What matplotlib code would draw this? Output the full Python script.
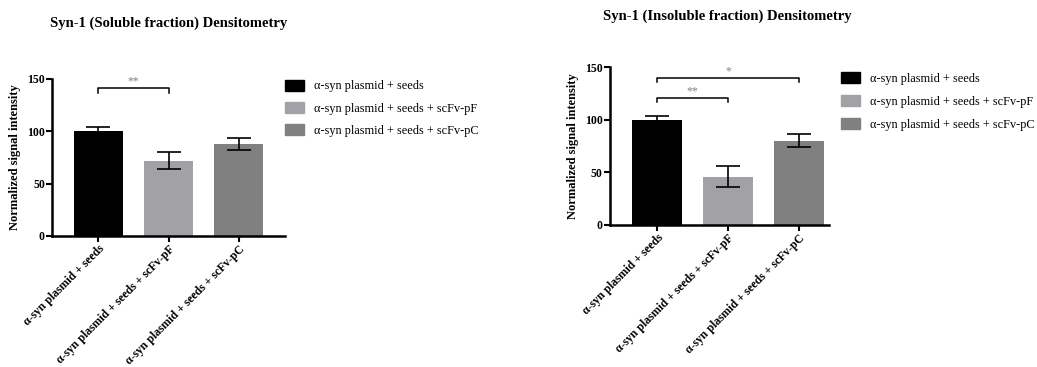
import numpy as np
import matplotlib.pyplot as plt
from matplotlib.patches import Patch

plt.rcParams['font.family'] = ['Liberation Serif', 'DejaVu Serif']

groups = ['α-syn plasmid + seeds',
          'α-syn plasmid + seeds + scFv-pF',
          'α-syn plasmid + seeds + scFv-pC']
colors = ['#000000', '#a2a2a6', '#808080']

sol_mean = [100, 72, 88]
sol_err = [4, 8, 6]
insol_mean = [100, 46, 80]
insol_err = [4, 10, 6]

# (left bar, right bar, height, label)
sol_sig = [(0, 1, 141, '**')]
insol_sig = [(0, 1, 121, '**'), (0, 2, 140, '*')]

fig = plt.figure(figsize=(10.37, 3.67), dpi=100)


def panel(rect, xlim, means, errs, sigs, title, title_xy, leg_xy, lspace):
    ax = fig.add_axes(rect)
    x = np.arange(len(means))
    ax.bar(x, means, width=0.7, color=colors, zorder=2)
    ax.errorbar(x, means, yerr=errs, fmt='none', ecolor='black',
                elinewidth=1.2, capsize=8.5, capthick=1.2, zorder=3)
    for a, b, h, lab in sigs:
        ax.plot([a, a, b, b], [h - 4, h, h, h - 4], color='black', lw=1.1)
        ax.text((a + b) / 2, h + 0.5, lab, ha='center', va='bottom',
                fontsize=8.5, color='#808080')
    ax.set_xlim(*xlim)
    ax.set_ylim(0, 150)
    ax.set_yticks([0, 50, 100, 150])
    ax.set_xticks(x)
    ax.set_xticklabels(groups, rotation=45, ha='right', rotation_mode='anchor',
                       fontsize=8.5, fontweight='bold')
    for t in ax.get_yticklabels():
        t.set_fontweight('bold')
        t.set_fontsize(8.5)
    ax.set_ylabel('Normalized signal intensity', fontsize=9, fontweight='bold')
    ax.spines['top'].set_visible(False)
    ax.spines['right'].set_visible(False)
    ax.spines['left'].set_linewidth(1.8)
    ax.spines['bottom'].set_linewidth(1.8)
    ax.tick_params(width=1.5, length=4, pad=1)
    fig.text(title_xy[0], title_xy[1], title, ha='center', va='center',
             fontsize=10.5, fontweight='bold')
    handles = [Patch(color=c) for c in colors]
    fig.legend(handles, groups, loc='upper left', bbox_to_anchor=leg_xy,
               frameon=False, fontsize=8.8, handlelength=1.6, handleheight=1.0,
               labelspacing=lspace, handletextpad=0.8)
    return ax


panel([0.050, 0.357, 0.225, 0.428], (-0.66, 2.66), sol_mean, sol_err, sol_sig,
      'Syn-1 (Soluble fraction) Densitometry', (0.1625, 0.937), (0.264, 0.813), 0.8)
panel([0.588, 0.387, 0.211, 0.43], (-0.67, 2.42), insol_mean, insol_err, insol_sig,
      'Syn-1 (Insoluble fraction) Densitometry', (0.7015, 0.956), (0.800, 0.834), 0.85)

fig.savefig('out.png', dpi=100)
